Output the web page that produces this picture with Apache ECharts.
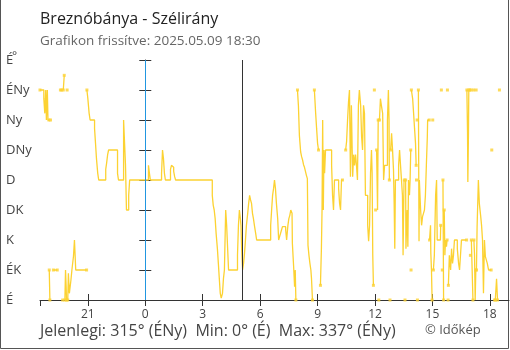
<!DOCTYPE html>
<html><head><meta charset="utf-8">
<script src="https://cdn.jsdelivr.net/npm/echarts@6/dist/echarts.min.js"></script>
<style>html,body{margin:0;padding:0;background:#fff}#c{width:510px;height:350px}</style>
</head><body><div id="c"></div>
<script>
const chartTitle = 'Breznóbánya - Szélirány';
const chartSubtitle = 'Grafikon frissítve: 2025.05.09 18:30';
const copyright = '© Időkép';
const dirNames = ['É','ÉK','K','DK','D','DNy','Ny','ÉNy','É'];
const hourTicks = [-3, 0, 3, 6, 9, 12, 15, 18];
const axisStart = -5.5, axisEnd = 19;           // 18:30 previous day .. 19:00
const lineTimes = ['00:00', '05:05'];          // midnight, sunrise

// Wind direction readings, grouped into unbroken runs (time, degrees)
const runTimes = [
 ['18:30','18:42','18:45','18:48','18:50','18:53','18:55','18:58'],
 ['18:59','19:01'],
 ['19:03'],
 ['19:12','19:24'],
 ['19:34','19:38'],
 ['19:41'],
 ['19:43','19:46'],
 ['19:48','19:50','19:52','19:53'],
 ['19:55'],
 ['19:57','19:59','20:02','20:07','20:10','20:15','20:18','20:22','20:56'],
 ['20:57','21:00','21:04','21:07','21:21','21:24','21:27','21:31','21:34',
  '21:56','21:59','22:02','22:05','22:33','22:36','22:52','22:58','23:01','23:08','23:11',
  '00:10','00:13','00:16','00:51','00:54','00:57','01:00','01:03',
  '01:19','01:22','01:26','01:29','01:32','01:35',
  '03:30','03:33','03:36','03:39','03:42','03:46','03:49','03:52','03:55','03:58','04:00',
  '04:02','04:05','04:08','04:12','04:15','04:21','04:49','04:52','04:55','04:58','05:00','05:02','05:05',
  '05:08','05:11','05:14','05:17','05:21','05:24','05:27','05:30','05:33','05:36','05:39','05:42','05:46','05:49',
  '06:33','06:36','06:39','06:42','06:45','06:48','06:51','06:55','06:58',
  '07:01','07:04','07:07','07:10','07:13','07:16','07:20','07:23','07:27','07:30','07:33','07:36','07:40','07:41','07:45','07:48','07:50','07:52'],
 ['07:57','08:00','08:03','08:07','08:10','08:13','08:16','08:19','08:22','08:25','08:28','08:30','08:33','08:36','08:39','08:41','08:44'],
 ['08:50','08:54','08:57','09:00','09:03'],
 ['09:09','09:12','09:14','09:16','09:18','09:20','09:22','09:25','09:44','09:47','09:50','09:53','10:06','10:09','10:12','10:15','10:18'],
 ['10:28','10:31','10:34','10:37','10:40','10:43','10:46','10:50','10:53','10:56','10:59','11:02','11:05','11:08','11:11',
  '11:15','11:18','11:21','11:24','11:27','11:30','11:37','11:40','11:43','11:46','11:49','11:51','11:53','11:55'],
 ['11:58'],
 ['12:02'],
 ['12:05','12:08','12:10'],
 ['12:12'],
 ['12:14','12:17','12:20','12:24','12:27','12:30','12:39','12:42','12:44','12:45'],
 ['12:47'],
 ['12:49','12:52','12:55','12:58','13:00','13:02','13:04','13:14','13:17','13:20','13:23','13:26','13:28','13:31','13:32'],
 ['13:34'],
 ['13:36','13:37','13:39','13:41','13:43','13:45','13:48','13:50','13:52'],
 ['13:53'],
 ['13:54','13:58','14:01','14:04','14:07','14:09'],
 ['14:10'],
 ['14:12'],
 ['14:13'],
 ['14:16','14:18','14:19','14:23','14:26','14:29','14:32','14:35','14:38','14:41','14:44','14:45','14:50'],
 ['14:51','14:54','14:55','14:57','14:59'],
 ['15:01'],
 ['15:03','15:06','15:07','15:10','15:13','15:15','15:25','15:26'],
 ['15:28'],
 ['15:31'],
 ['15:33','15:35'],
 ['15:37','15:39','15:41','15:44','15:46'],
 ['15:47'],
 ['15:49'],
 ['15:50','15:53','15:57','16:00','16:03','16:06','16:09','16:18','16:22','16:25','16:31','16:47'],
 ['16:48','16:50','16:51','16:53','16:54'],
 ['16:57'],
 ['16:59'],
 ['17:01'],
 ['17:02','17:05','17:07'],
 ['17:09'],
 ['17:10','17:12','17:14','17:16'],
 ['17:17'],
 ['17:18','17:20','17:24','17:27','17:31','17:34','17:37','17:40','17:43','17:46','17:49','17:52','17:56','18:04'],
 ['18:06'],
 ['18:15'],
 ['18:17','18:21','18:24'],
 ['18:30']
];
const runDirs = [
 [315,302,280,315,270,315,270,270],
 [45,0],
 [270],
 [45,45],
 [315,315],
 [0],
 [315,337],
 [0,45,20,0],
 [315],
 [0,40,10,30,45,66,90,45,45],
 [315,302,280,270,257,235,212,190,180,
  196,206,218,225,190,180,270,202,135,157,180,
  202,190,180,190,225,212,190,180,
  196,202,199,193,185,180,
  157,142,135,122,100,77,55,32,10,3,0,
  10,32,45,135,112,45,67,112,135,122,112,77,45,
  55,70,90,112,130,145,157,150,145,130,122,112,100,90,
  112,135,157,167,180,167,145,122,90,
  95,100,105,110,112,110,105,90,112,122,127,135,130,85,50,20,45,0],
 [315,291,247,222,215,210,203,199,193,187,182,82,67,55,45,32,0],
 [315,280,257,235,225],
 [22,77,135,270,135,225,190,225,202,157,135,180,167,145,135,180,180],
 [225,238,270,297,315,185,292,185,218,202,218,202,180,292,315,
  292,245,225,292,280,157,112,88,112,190,225,190,67,22],
 [315],
 [135],
 [225,135,270],
 [0],
 [270,302,292,280,180,202,270,315,270,180],
 [0],
 [225,250,225,195,145,77,180,202,225,202,180,157,67,180,180],
 [0],
 [180,77,112,135,80,180,157,180,225],
 [45],
 [315,302,280,257,235,202],
 [180],
 [270],
 [0],
 [315,88,180,135,112,125,130,135,157,202,245,270,270],
 [90,112,70,45,0],
 [270],
 [45,67,90,157,180,90,90,112],
 [315],
 [45],
 [180,0],
 [135,67,90,80,90],
 [315],
 [0],
 [22,67,45,77,55,67,90,77,55,45,90,90],
 [315,252,177,252,315],
 [315],
 [67],
 [315],
 [90,90,0],
 [315],
 [90,67,0,45],
 [315],
 [45,110,180,145,127,112,90,10,90,65,67,55,45,45],
 [225],
 [0],
 [0,32,0],
 [315]
];

// ---- build series data ----
function hm(t){ const p = t.split(':'); return +p[0] + (+p[1]) / 60; }
const lineData = [], endData = [];
let base = -24, prev = -Infinity;
const allVals = [];
runTimes.forEach((run, r) => {
  const pts = run.map((t, i) => {
    let v = base + hm(t);
    if (v < prev - 1e-9) { base += 24; v += 24; }
    prev = v;
    allVals.push(runDirs[r][i]);
    return [v, runDirs[r][i]];
  });
  pts.forEach(p => lineData.push(p));
  lineData.push([pts[pts.length - 1][0], null]);
  endData.push(pts[0]);
  if (pts.length > 1) endData.push(pts[pts.length - 1]);
});
const dirName = v => dirNames[Math.round(v / 45) % 8];
const cur = allVals[allVals.length - 1], mn = Math.min(...allVals), mx = Math.max(...allVals);
const summary = 'Jelenlegi: ' + cur + '° (' + dirName(cur) + ')  Min: ' + mn + '° (' + dirName(mn) + ')  Max: ' + mx + '° (' + dirName(mx) + ')';

const YEL = '#fcd232';
const AX = '#333';
const FF = '"Open Sans", "Noto Sans", sans-serif';
const chart = echarts.init(document.getElementById('c'), null, {renderer: 'canvas'});
chart.setOption({
  animation: false,
  textStyle: {fontFamily: FF},
  title: [
    {text: chartTitle, left: 40, top: 11, padding: 0, textStyle: {fontSize: 16, fontWeight: 'normal', color: '#222', fontFamily: FF}},
    {text: chartSubtitle, left: 40, top: 34, padding: 0, textStyle: {fontSize: 13.5, fontWeight: 'normal', color: '#666', fontFamily: FF}},
    {text: summary, left: 40, top: 323, padding: 0, textStyle: {fontSize: 16, fontWeight: 'normal', color: '#444', fontFamily: FF}},
    {text: copyright, left: 425, top: 324, padding: 0, textStyle: {fontSize: 13, fontWeight: 'normal', color: '#555', fontFamily: FF}}
  ],
  grid: {left: 40, right: 1, top: 60, bottom: 50, containLabel: false},
  xAxis: [
    {type: 'value', min: axisStart, max: axisEnd, position: 'bottom',
     axisLine: {show: true, lineStyle: {color: AX, width: 1}},
     axisTick: {show: true, length: 6, customValues: [axisStart].concat(hourTicks), lineStyle: {color: AX}},
     axisLabel: {show: true, customValues: hourTicks, color: '#444', fontSize: 12, margin: 9, fontFamily: FF,
                 formatter: v => String(((Math.round(v) % 24) + 24) % 24)},
     splitLine: {show: false}},
    {type: 'value', min: axisStart, max: axisEnd, position: 'bottom',
     axisLine: {show: false},
     axisTick: {show: true, inside: true, length: 6, customValues: hourTicks, lineStyle: {color: AX}},
     axisLabel: {show: false}, splitLine: {show: false}}
  ],
  yAxis: [
    {type: 'value', min: 0, max: 360, interval: 45, position: 'left',
     axisLine: {show: true, lineStyle: {color: AX, width: 1}},
     axisTick: {show: true, length: 6, lineStyle: {color: AX}},
     axisLabel: {show: true, align: 'left', margin: 34, color: '#444', fontSize: 13, fontFamily: FF,
                 formatter: v => dirNames[Math.round(v / 45)]},
     splitLine: {show: false}},
    {type: 'value', min: 0, max: 360, interval: 45, position: 'left',
     axisLine: {show: false},
     axisTick: {show: true, inside: true, length: 6, lineStyle: {color: AX}},
     axisLabel: {show: false}, splitLine: {show: false}}
  ],
  graphic: [
    {type: 'text', left: 12, top: 51, style: {text: '°', font: '12px ' + FF, fill: '#444'}},
    {type: 'polyline', shape: {points: [[0.5, 0], [0.5, 348.5], [508.5, 348.5], [508.5, 0]]},
     style: {fill: 'none', stroke: '#555', lineWidth: 1}, silent: true}
  ],
  series: [
    {type: 'line', data: lineData, step: 'end', symbol: 'none', connectNulls: false, silent: true, z: 3,
     lineStyle: {color: YEL, width: 1.3},
     markLine: {silent: true, symbol: ['none', 'none'], label: {show: false}, animation: false,
       data: [
         {xAxis: hm(lineTimes[0]), lineStyle: {color: '#2196e0', width: 1, type: 'solid'}},
         {xAxis: hm(lineTimes[1]), lineStyle: {color: '#333', width: 1, type: 'solid'}}
       ]}},
    {type: 'scatter', data: endData, symbol: 'rect', symbolSize: 3, silent: true, z: 4,
     itemStyle: {color: YEL}}
  ]
});
</script>
</body></html>
